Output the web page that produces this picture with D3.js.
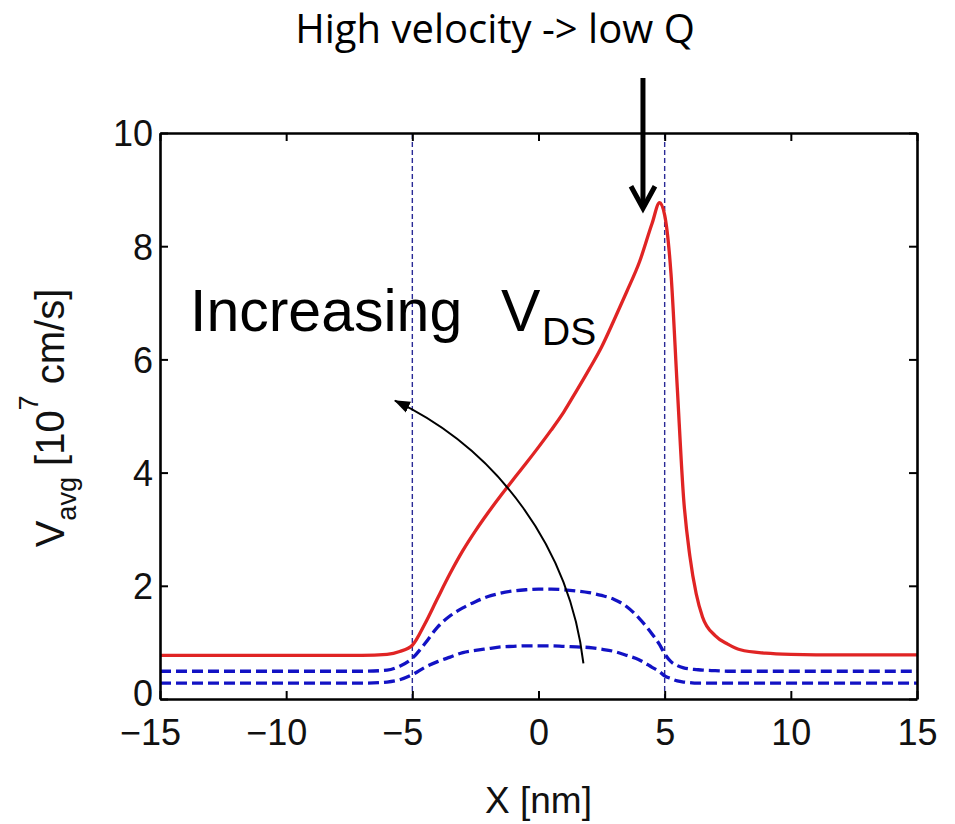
<!DOCTYPE html>
<html>
<head>
<meta charset="utf-8">
<script src="https://cdn.jsdelivr.net/npm/d3@7"></script>
<style>
  body { margin: 0; background: #fff; }
  svg { display: block; background: #fff; }
</style>
</head>
<body>
<svg id="chart" width="955" height="824"></svg>
<script>
// position along the channel [nm]
let xPos = [-15, -10, -7, -6, -5.5, -5, -4.5, -4, -3.5, -3, -2.5, -2, -1.5, -1, -0.5, 0,
            0.5, 1, 1.5, 2, 2.5, 3, 3.5, 4, 4.5, 4.8, 5, 5.25, 5.5, 5.75, 6, 6.25, 6.5,
            7, 7.5, 8, 9, 10, 12, 15];

// average velocity [1e7 cm/s], highest V_DS (red solid)
let vHigh = [0.77, 0.77, 0.77, 0.79, 0.84, 0.95, 1.33, 1.78, 2.22, 2.62, 2.97, 3.29, 3.59, 3.88, 4.16, 4.45,
             4.75, 5.07, 5.44, 5.82, 6.22, 6.70, 7.20, 7.72, 8.40, 8.77, 8.55, 7.52, 5.50, 3.55, 2.52, 1.86, 1.45,
             1.12, 0.97, 0.87, 0.81, 0.79, 0.78, 0.78];

// middle V_DS (blue dashed)
let vMid = [0.49, 0.49, 0.49, 0.51, 0.58, 0.72, 0.98, 1.27, 1.47, 1.61, 1.72, 1.81, 1.87, 1.91, 1.93, 1.94,
            1.94, 1.93, 1.91, 1.88, 1.83, 1.76, 1.63, 1.42, 1.15, 0.96, 0.80, 0.66, 0.59, 0.55, 0.53, 0.52, 0.51,
            0.50, 0.49, 0.49, 0.49, 0.49, 0.49, 0.49];

// lowest V_DS (blue dashed)
let vLow = [0.28, 0.28, 0.28, 0.30, 0.34, 0.43, 0.56, 0.66, 0.74, 0.82, 0.86, 0.89, 0.92, 0.93, 0.94, 0.94,
            0.94, 0.93, 0.92, 0.91, 0.88, 0.84, 0.77, 0.69, 0.56, 0.48, 0.41, 0.36, 0.32, 0.30, 0.29, 0.28, 0.28,
            0.28, 0.28, 0.28, 0.28, 0.28, 0.28, 0.28];

let xTicks = [-15, -10, -5, 0, 5, 10, 15];
let yTicks = [0, 2, 4, 6, 8, 10];
let gateEdges = [-5, 5];

// curved "increasing V_DS" arrow: start, a point on the arc, tip (data units)
let sweepArrow = [[1.78, 0.63], [-1.26, 3.75], [-5.69, 5.27]];
// straight arrow pointing at the peak: x, top, tip
let peakArrow = {x: 4.14, top: 10.97, tip: 8.67};

let svg = d3.select("#chart");
let margin = {top: 133, right: 38, bottom: 125, left: 160};
let width = 955 - margin.left - margin.right;
let height = 824 - margin.top - margin.bottom;

let helv = "'Liberation Sans', Arial, Helvetica, sans-serif";

let x = d3.scaleLinear().domain([-15, 15]).range([0, width]);
let y = d3.scaleLinear().domain([0, 10]).range([height, 0]);

let mainG = svg.append("g").attr("transform", "translate(" + margin.left + "," + margin.top + ")");

// gate edges
mainG.selectAll(".edge")
    .data(gateEdges)
    .enter().append("line")
    .attr("class", "edge")
    .attr("x1", d => x(d))
    .attr("x2", d => x(d))
    .attr("y1", y(0))
    .attr("y2", y(10))
    .style("stroke", "#2a2a96")
    .style("stroke-width", 1.4)
    .style("stroke-dasharray", "5,3");

let line = d3.line()
    .x((d, i) => x(xPos[i]))
    .y(d => y(d))
    .curve(d3.curveMonotoneX);

// blue dashed curves
[vLow, vMid].forEach(function(series) {
    mainG.append("path")
        .datum(series)
        .attr("d", line)
        .style("fill", "none")
        .style("stroke", "#1212c4")
        .style("stroke-width", 3.3)
        .style("stroke-dasharray", "11,5");
});

// red solid curve
mainG.append("path")
    .datum(vHigh)
    .attr("d", line)
    .style("fill", "none")
    .style("stroke", "#e02424")
    .style("stroke-width", 3.3)
    .style("stroke-linejoin", "round");

// axes, ticks pointing inward on all four sides
function styleAxis(g) {
    g.select(".domain").style("stroke", "#000").style("stroke-width", 2.6);
    g.selectAll(".tick line").style("stroke", "#000").style("stroke-width", 2);
    g.selectAll(".tick text")
        .style("font-family", helv)
        .style("font-size", "36px")
        .style("fill", "#111");
}

mainG.append("g")
    .attr("transform", "translate(0," + height + ")")
    .call(d3.axisBottom(x).tickValues(xTicks).tickSizeInner(-8).tickSizeOuter(0).tickPadding(20))
    .call(styleAxis)
    .selectAll(".tick text")
    .attr("dx", d => d < 0 ? -10 : 0);

mainG.append("g")
    .call(d3.axisTop(x).tickValues(xTicks).tickSizeInner(-8).tickSizeOuter(0).tickFormat(""))
    .call(styleAxis);

mainG.append("g")
    .call(d3.axisLeft(y).tickValues(yTicks).tickSizeInner(-8).tickSizeOuter(0).tickPadding(7))
    .call(styleAxis)
    .selectAll(".tick text")
    .attr("dy", d => d == 0 ? "0.18em" : "0.36em");

mainG.append("g")
    .attr("transform", "translate(" + width + ",0)")
    .call(d3.axisRight(y).tickValues(yTicks).tickSizeInner(-8).tickSizeOuter(0).tickFormat(""))
    .call(styleAxis);

// axis titles
svg.append("text")
    .attr("x", margin.left + width / 2)
    .attr("y", 813)
    .attr("text-anchor", "middle")
    .style("font-family", helv)
    .style("font-size", "37px")
    .style("fill", "#111")
    .text("X [nm]");

let yLabel = svg.append("text")
    .attr("transform", "translate(64," + (margin.top + height / 2 + 2) + ") rotate(-90)")
    .attr("text-anchor", "middle")
    .style("font-family", helv)
    .style("font-size", "40px")
    .style("fill", "#111");
yLabel.append("tspan").text("V");
yLabel.append("tspan").attr("dy", 12).style("font-size", "27px").text("avg");
yLabel.append("tspan").attr("dy", -12).text(" [10");
yLabel.append("tspan").attr("dy", -26).style("font-size", "27px").text("7");
yLabel.append("tspan").attr("dy", 26).text(" cm/s]");

// "Increasing V_DS" annotation
mainG.append("text")
    .attr("x", x(-13.81))
    .attr("y", y(6.5))
    .style("font-family", helv)
    .style("font-size", "59px")
    .style("fill", "#000")
    .text("Increasing");
mainG.append("text")
    .attr("x", x(-1.49))
    .attr("y", y(6.5))
    .style("font-family", helv)
    .style("font-size", "59px")
    .style("fill", "#000")
    .text("V");
mainG.append("text")
    .attr("x", x(0.14))
    .attr("y", y(6.25))
    .style("font-family", helv)
    .style("font-size", "39px")
    .style("fill", "#000")
    .text("DS");

// curved arrow: circle arc through the three points
svg.append("defs").append("marker")
    .attr("id", "head")
    .attr("markerUnits", "userSpaceOnUse")
    .attr("viewBox", "0 -7 16 14")
    .attr("refX", 15)
    .attr("refY", 0)
    .attr("markerWidth", 16)
    .attr("markerHeight", 14)
    .attr("orient", "auto")
    .append("path")
    .attr("d", "M0,-6L16,0L0,6Z")
    .style("fill", "#000");

function arcThrough(pts) {
    let [a, b, c] = pts.map(p => [x(p[0]), y(p[1])]);
    let sq = p => p[0] * p[0] + p[1] * p[1];
    let d = 2 * (a[0] * (b[1] - c[1]) + b[0] * (c[1] - a[1]) + c[0] * (a[1] - b[1]));
    let ux = (sq(a) * (b[1] - c[1]) + sq(b) * (c[1] - a[1]) + sq(c) * (a[1] - b[1])) / d;
    let uy = (sq(a) * (c[0] - b[0]) + sq(b) * (a[0] - c[0]) + sq(c) * (b[0] - a[0])) / d;
    let r = Math.hypot(a[0] - ux, a[1] - uy);
    return "M" + a[0] + "," + a[1] + "A" + r + "," + r + " 0 0 0 " + c[0] + "," + c[1];
}

mainG.append("path")
    .attr("d", arcThrough(sweepArrow))
    .attr("marker-end", "url(#head)")
    .style("fill", "none")
    .style("stroke", "#000")
    .style("stroke-width", 2);

// arrow to the velocity peak
let ax = x(peakArrow.x);
let tipY = y(peakArrow.tip);
mainG.append("line")
    .attr("x1", ax).attr("x2", ax)
    .attr("y1", y(peakArrow.top)).attr("y2", tipY - 2)
    .style("stroke", "#000")
    .style("stroke-width", 5);
mainG.append("path")
    .attr("d", "M" + (ax - 12) + "," + (tipY - 22) + "L" + ax + "," + tipY + "L" + (ax + 12) + "," + (tipY - 22))
    .style("fill", "none")
    .style("stroke", "#000")
    .style("stroke-width", 5)
    .style("stroke-linejoin", "miter");

// slide caption
svg.append("text")
    .attr("x", 495)
    .attr("y", 43)
    .attr("text-anchor", "middle")
    .style("font-family", "'Open Sans', 'Noto Sans', sans-serif")
    .style("font-size", "40px")
    .style("fill", "#000")
    .text("High velocity -> low Q");
</script>
</body>
</html>
